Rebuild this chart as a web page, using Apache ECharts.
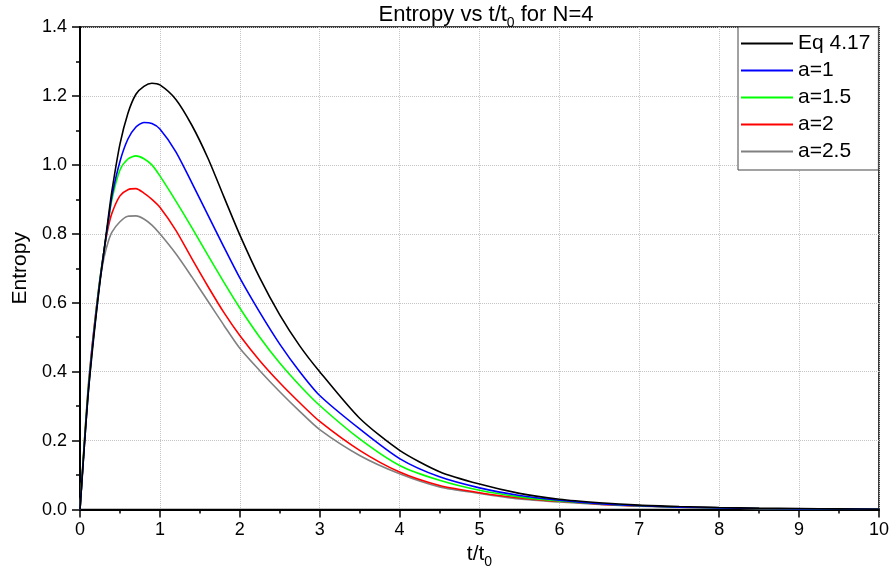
<!DOCTYPE html>
<html>
<head>
<meta charset="utf-8">
<script src="https://cdn.jsdelivr.net/npm/echarts@6/dist/echarts.min.js"></script>
<style>
html,body{margin:0;padding:0;background:#fff;}
#chart{width:892px;height:574px;}
</style>
</head>
<body>
<div id="chart"></div>
<script>
// ---- data ----
const seriesNames = ['Eq 4.17', 'a=1', 'a=1.5', 'a=2', 'a=2.5'];
const seriesColors = ['#000000', '#0000ff', '#00ff00', '#ff0000', '#808080'];
const xs = [0, 0.05, 0.1, 0.15, 0.2, 0.25, 0.3, 0.35, 0.4,
  0.5, 0.6, 0.7, 0.8, 0.9, 1.0,
  1.2, 1.4, 1.6, 1.8, 2.0,
  2.25, 2.5, 2.75, 3.0,
  3.5, 4.0, 4.5, 5.0, 5.5, 6.0, 6.5, 7.0, 7.5, 8.0, 8.5, 9.0, 9.5, 10];
const eq417 = [0, 0.17, 0.33, 0.45, 0.56, 0.66, 0.75, 0.84, 0.925,
  1.06, 1.15, 1.205, 1.228, 1.237, 1.232,
  1.19, 1.115, 1.02, 0.908, 0.797,
  0.672, 0.565, 0.475, 0.40,
  0.265, 0.172, 0.11, 0.074, 0.047, 0.030, 0.020, 0.013, 0.009, 0.006, 0.004, 0.003, 0.002, 0.001];
const a1 = [0, 0.17, 0.33, 0.46, 0.565, 0.665, 0.75, 0.83, 0.91,
  1.01, 1.075, 1.11, 1.123, 1.12, 1.104,
  1.038, 0.948, 0.855, 0.762, 0.672,
  0.572, 0.48, 0.40, 0.331,
  0.234, 0.148, 0.095, 0.063, 0.041, 0.027, 0.017, 0.011, 0.007, 0.005, 0.003, 0.002, 0.002, 0.001];
const a15 = [0, 0.18, 0.34, 0.46, 0.57, 0.67, 0.75, 0.83, 0.90,
  0.985, 1.017, 1.026, 1.018, 1.0, 0.968,
  0.895, 0.818, 0.738, 0.66, 0.585,
  0.50, 0.425, 0.36, 0.302,
  0.205, 0.128, 0.085, 0.056, 0.037, 0.025, 0.017, 0.011, 0.007, 0.005, 0.003, 0.002, 0.001, 0.001];
const a2 = [0, 0.18, 0.34, 0.47, 0.575, 0.67, 0.75, 0.815, 0.86,
  0.91, 0.928, 0.931, 0.918, 0.9, 0.877,
  0.81, 0.728, 0.648, 0.572, 0.505,
  0.432, 0.368, 0.31, 0.256,
  0.172, 0.109, 0.070, 0.049, 0.034, 0.024, 0.016, 0.011, 0.007, 0.005, 0.003, 0.002, 0.001, 0.001];
const a25 = [0, 0.18, 0.35, 0.47, 0.575, 0.665, 0.73, 0.775, 0.805,
  0.835, 0.851, 0.852, 0.843, 0.825, 0.80,
  0.742, 0.675, 0.605, 0.535, 0.468,
  0.403, 0.342, 0.285, 0.232,
  0.157, 0.104, 0.066, 0.047, 0.031, 0.022, 0.015, 0.010, 0.007, 0.005, 0.003, 0.002, 0.001, 0.001];
const allValues = [eq417, a1, a15, a2, a25];
const xTicks = {min: 0, max: 10, interval: 1};
const yTicks = {min: 0, max: 1.4, interval: 0.2};

// ---- chart ----
const FONT = "'Liberation Sans', Arial, Helvetica, sans-serif";
const chart = echarts.init(document.getElementById('chart'), null, {renderer: 'canvas'});

const series = seriesNames.map((name, i) => ({
  name: name,
  type: 'line',
  data: xs.map((x, j) => [x, allValues[i][j]]),
  showSymbol: false,
  symbol: 'none',
  smooth: 0.25,
  lineStyle: {color: seriesColors[i], width: 1.6},
  itemStyle: {color: seriesColors[i]},
  z: 10 - i,
  animation: false
}));

const option = {
  animation: false,
  backgroundColor: '#ffffff',
  title: {
    text: '{a|Entropy vs t/t}{s|0}{a| for N=4}',
    left: 481,
    textAlign: 'center',
    top: -5,
    textStyle: {
      fontWeight: 'normal',
      rich: {
        a: {fontSize: 22, fontFamily: FONT, fontWeight: 'normal', color: '#000', lineHeight: 30},
        s: {fontSize: 14, fontFamily: FONT, fontWeight: 'normal', color: '#000', verticalAlign: 'bottom'}
      }
    }
  },
  grid: {
    left: 80, right: 12, top: 27, bottom: 63,
    show: true, borderColor: '#000', borderWidth: 1.5, backgroundColor: 'transparent'
  },
  legend: {
    orient: 'vertical',
    left: 738, top: 27,
    icon: 'rect',
    itemWidth: 52, itemHeight: 2, itemGap: 4,
    padding: [5, 8, 7, 3],
    backgroundColor: '#fff',
    borderColor: '#444', borderWidth: 1,
    textStyle: {fontSize: 21, fontFamily: FONT, color: '#000', lineHeight: 23},
    z: 20
  },
  xAxis: {
    type: 'value',
    min: xTicks.min, max: xTicks.max, interval: xTicks.interval,
    name: '{a|t/t}{s|0}',
    nameLocation: 'middle',
    nameGap: 22,
    nameTextStyle: {
      rich: {
        a: {fontSize: 21, fontFamily: FONT, color: '#000', lineHeight: 30},
        s: {fontSize: 14, fontFamily: FONT, color: '#000', verticalAlign: 'bottom'}
      }
    },
    axisLine: {show: true, onZero: false, lineStyle: {color: '#000', width: 2}},
    axisTick: {show: true, inside: false, length: 8, lineStyle: {color: '#000', width: 1.5}},
    minorTick: {show: true, splitNumber: 2, length: 4, lineStyle: {color: '#000', width: 1.5}},
    axisLabel: {fontSize: 18, fontFamily: FONT, color: '#000', margin: 11},
    splitLine: {show: true, lineStyle: {type: 'dotted', color: '#c4c4c4', width: 1}},
    minorSplitLine: {show: false}
  },
  yAxis: {
    type: 'value',
    min: yTicks.min, max: yTicks.max, interval: yTicks.interval,
    name: 'Entropy',
    nameLocation: 'middle',
    nameGap: 46,
    nameTextStyle: {fontSize: 21, fontFamily: FONT, color: '#000'},
    axisLine: {show: true, onZero: false, lineStyle: {color: '#000', width: 2}},
    axisTick: {show: true, inside: false, length: 8, lineStyle: {color: '#000', width: 1.5}},
    minorTick: {show: true, splitNumber: 2, length: 4, lineStyle: {color: '#000', width: 1.5}},
    axisLabel: {fontSize: 18, fontFamily: FONT, color: '#000', margin: 13,
      formatter: v => v.toFixed(1)},
    splitLine: {show: true, lineStyle: {type: 'dotted', color: '#c4c4c4', width: 1}},
    minorSplitLine: {show: false}
  },
  series: series
};
chart.setOption(option);
</script>
</body>
</html>
